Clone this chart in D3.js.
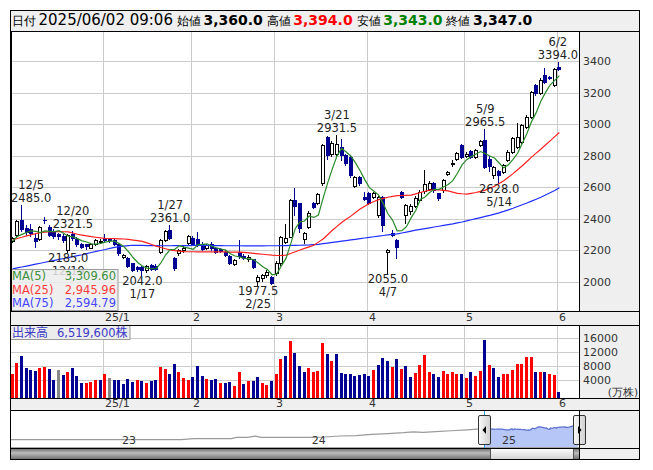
<!DOCTYPE html>
<html><head><meta charset="utf-8">
<script src="https://cdn.jsdelivr.net/npm/d3@7/dist/d3.min.js"></script>
<style>
body{margin:0;background:#fff;}
svg{display:block;}
text{font-family:"DejaVu Sans",sans-serif;}
</style></head>
<body><svg id="chart" width="653" height="470"></svg>
<script>
// ---------------- DATA ----------------
const dates = [
"2024-12-03","2024-12-04","2024-12-05","2024-12-06","2024-12-09","2024-12-10","2024-12-11","2024-12-12","2024-12-13","2024-12-16",
"2024-12-17","2024-12-18","2024-12-19","2024-12-20","2024-12-23","2024-12-24","2024-12-25","2024-12-26","2024-12-27","2024-12-30",
"2025-01-06","2025-01-07","2025-01-08","2025-01-09","2025-01-10","2025-01-14","2025-01-15","2025-01-16","2025-01-17","2025-01-20",
"2025-01-21","2025-01-22","2025-01-23","2025-01-24","2025-01-27","2025-01-28","2025-01-29","2025-01-30","2025-01-31","2025-02-03",
"2025-02-04","2025-02-05","2025-02-06","2025-02-07","2025-02-10","2025-02-12","2025-02-13","2025-02-14","2025-02-17","2025-02-18",
"2025-02-19","2025-02-20","2025-02-21","2025-02-25","2025-02-26","2025-02-27","2025-02-28","2025-03-03","2025-03-04","2025-03-05",
"2025-03-06","2025-03-07","2025-03-10","2025-03-11","2025-03-12","2025-03-13","2025-03-14","2025-03-17","2025-03-18","2025-03-19",
"2025-03-21","2025-03-24","2025-03-25","2025-03-26","2025-03-27","2025-03-28","2025-03-31","2025-04-01","2025-04-02","2025-04-03",
"2025-04-04","2025-04-07","2025-04-08","2025-04-09","2025-04-10","2025-04-11","2025-04-14","2025-04-15","2025-04-16","2025-04-17",
"2025-04-18","2025-04-21","2025-04-22","2025-04-23","2025-04-24","2025-04-25","2025-04-28","2025-04-30","2025-05-01","2025-05-02",
"2025-05-07","2025-05-08","2025-05-09","2025-05-12","2025-05-13","2025-05-14","2025-05-15","2025-05-16","2025-05-19","2025-05-20",
"2025-05-21","2025-05-22","2025-05-23","2025-05-26","2025-05-27","2025-05-28","2025-05-29","2025-05-30","2025-06-02"];

const opens = [2258,2295,2391,2340,2333,2276,2272,2392,2345,2318, 2300,2290,2200,2300,2272,2236,2236,2214,2240,2250,
 2275,2270,2262,2235,2158,2150,2115,2090,2090,2072, 2102,2098,2190,2262,2325,2148,2179,2200,2242,2274,
 2272,2238,2212,2238,2210,2205,2190,2160,2110,2190, 2165,2140,2140,2005,2020,2040,2031,2052,2115,2253,
 2284,2517,2496,2267,2348,2496,2496,2623,2919,2809, 2812,2856,2803,2792,2606,2661,2538,2560,2538,2422,
 2538,2188,2310,2263,2570,2422,2445,2480,2520,2575, 2590,2627,2560,2581,2680,2748,2778,2867,2797,2829,
 2793,2867,2898,2778,2676,2703,2698,2772,2825,2856, 2888,2983,3047,3248,3195,3311,3300,3248,3360];
const highs = [2282,2392,2485,2358,2366,2300,2350,2412,2360,2332, 2310,2300,2302,2321.5,2280,2246,2240,2246,2268,2272,
 2300,2275,2270,2240,2175,2155,2120,2100,2100,2104, 2110,2108,2268,2330,2361,2155,2205,2225,2298,2290,
 2316,2250,2240,2248,2218,2212,2198,2168,2142,2264, 2172,2166,2146,2040,2050,2070,2035,2130,2290,2363,
 2525,2591,2500,2316,2445,2505,2560,2875,2925,2890, 2931.5,2905,2810,2800,2670,2668,2570,2570,2566,2545,
 2545,2204,2330,2270,2575,2492,2490,2540,2578,2708, 2640,2634,2565,2650,2700,2770,2820,2875,2820,2835,
 2840,2900,2965.5,2800,2735,2710,2745,2832,2918,3004, 3000,3055,3212,3252,3290,3355,3305,3355,3394];
const lows = [2250,2290,2322,2296,2288,2220,2262,2372,2288,2275, 2272,2252,2185,2262,2225,2212,2205,2210,2232,2245,
 2250,2248,2232,2170,2150,2090,2065,2068,2042,2062, 2070,2070,2180,2255,2268,2075,2170,2190,2238,2230,
 2225,2198,2205,2200,2182,2185,2165,2110,2104,2150, 2140,2132,2085,1977.5,2005,2030,1984,2040,2105,2242,
 2280,2422,2316,2245,2340,2465,2490,2615,2780,2800, 2805,2770,2740,2665,2598,2615,2515,2490,2530,2410,
 2320,2055,2290,2147,2530,2370,2430,2470,2510,2560, 2580,2570,2520,2570,2675,2735,2770,2785,2790,2785,
 2785,2860,2720,2700,2660,2628,2690,2765,2815,2845, 2880,2975,3040,3185,3188,3260,3284,3240,3343];
const closes = [2274,2386,2331,2312,2305,2260,2344,2388,2297,2292, 2292,2262,2296,2275,2236,2220,2226,2240,2262,2258,
 2262,2262,2240,2180,2166,2100,2075,2082,2070,2098, 2080,2078,2262,2322,2274,2085,2198,2212,2290,2238,
 2232,2205,2232,2210,2190,2195,2170,2118,2135,2160, 2150,2158,2094,2027,2042,2062,1989,2119,2284,2278,
 2517,2479,2337,2310,2437,2471,2555,2866,2803,2881, 2876,2803,2750,2676,2661,2627,2521,2496,2560,2538,
 2358,2198,2295,2221,2539,2486,2478,2530,2570,2620, 2628,2581,2528,2644,2697,2752,2814,2793,2812,2793,
 2835,2892,2729,2735,2729,2676,2740,2825,2910,2920, 2994,3047,3205,3195,3279,3269,3290,3350,3347];
const priorCloses = [2245,2262,2250,2254];   // last closes before the window (for MA5 and first change)

// volume, 万株
const volumes = [5730,8990,10910,7460,6880,6690,7460,7750,7170,4010, 6880,5450,6310,7460,5160,3240,3240,3430,4010,4010,
 5730,4580,4010,4010,2860,4300,3430,4010,3720,3240, 3720,4010,7750,7170,5730,8610,6310,4580,4010,4870,
 8040,5160,4300,4010,4300,3240,3240,3430,2280,6310, 2860,3720,3720,4870,3140,2570,3720,5730,10050,10910,
 15230,11780,8040,6310,7460,6310,6600,14650,11580,9570, 11580,6120,5730,5730,5160,5450,5730,5160,6880,8320,
 10340,9470,7750,10050,7170,8040,4870,6020,8320,11200, 6310,5730,4870,6600,5730,6310,5730,5730,4580,6310,
 5160,6600,15520,8320,7460,4870,5730,5730,6880,8610, 8610,10620,10620,6310,6310,6310,5730,5450,652];

const ma25 = [2264,2273,2281,2290,2297,2304,2310,2314,2316,2317, 2317,2316,2315,2308,2300,2295,2290,2285,2281,2277,
 2274,2273,2272,2271,2270,2267,2263,2259,2255,2245, 2235,2225,2216,2208,2200,2196,2193,2190,2189,2189,
 2188,2188,2188,2188,2188,2188,2188,2187,2186,2186, 2185,2182,2179,2176,2173,2170,2167,2165,2166,2168,
 2178,2189,2200,2210,2220,2230,2250,2270,2297,2325, 2350,2375,2395,2415,2438,2460,2478,2495,2508,2520,
 2528,2535,2540,2545,2546,2547,2548,2556,2565,2573, 2580,2581,2582,2579,2575,2567,2560,2557,2555,2560,
 2565,2572,2580,2592,2605,2622,2640,2662,2685,2710, 2735,2762,2790,2815,2840,2867,2893,2920,2945.96];
const ma75 = [2080,2086,2092,2098,2104,2110,2116,2122,2128,2134, 2140,2146,2152,2158,2164,2170,2177,2184,2191,2197,
 2203,2210,2217,2222,2225,2228,2230,2229,2229,2228, 2228,2228,2227,2227,2227,2228,2228,2228,2228,2229,
 2229,2229,2229,2228,2228,2228,2227,2227,2227,2227, 2226,2226,2226,2226,2226,2227,2227,2227,2228,2228,
 2229,2229,2230,2231,2232,2234,2236,2240,2244,2248, 2252,2256,2260,2264,2268,2272,2276,2280,2284,2288,
 2292,2296,2299,2302,2308,2314,2320,2326,2331,2336, 2341,2346,2351,2356,2361,2366,2372,2378,2385,2392,
 2399,2406,2413,2420,2428,2436,2445,2455,2465,2476, 2487,2498,2510,2522,2535,2549,2563,2578,2594.79];

const priceTicks = [2000,2200,2400,2600,2800,3000,3200,3400];
const volumeTicks = [4000,8000,12000,16000];
const monthTickLabels = ["25/1","2","3","4","5","6"];

const highLowMarks = [
 ["2024-12-05","high"],["2024-12-20","high"],["2024-12-19","low"],["2025-01-17","low"],["2025-01-27","high"],
 ["2025-02-25","low"],["2025-03-21","high"],["2025-04-07","low"],["2025-05-09","high"],["2025-05-14","low"],["2025-06-02","high"]];

const headerItems = [["日付","2025/06/02 09:06","#000",false],["始値","3,360.0","#000",true],
 ["高値","3,394.0","#ff0000",true],["安値","3,343.0","#008000",true],["終値","3,347.0","#000",true]];
const maLegend = [["MA(5)","3,309.60","#3b8f3b"],["MA(25)","2,945.96","#ff3c3c"],["MA(75)","2,594.79","#4646ff"]];
const volumeLabelName = "出来高";
const volumeLabelValue = "6,519,600株";
const volumeUnit = "(万株)";

// long-range navigator history (before the window)
const navHistoryDates = ["2022-06-05","2022-07-01","2022-08-01","2022-09-01","2022-10-01","2022-11-01","2022-12-01",
 "2023-01-01","2023-02-01","2023-03-01","2023-04-01","2023-05-01","2023-05-25","2023-07-01","2023-08-05","2023-08-15",
 "2023-09-05","2023-09-20","2023-10-01","2023-11-01","2023-12-01","2024-01-01","2024-02-01","2024-03-01","2024-04-01",
 "2024-05-01","2024-06-01","2024-07-01","2024-07-20","2024-08-08","2024-09-01","2024-10-01","2024-11-01","2024-11-20"];
const navHistoryValues = [745,747,746,748,745,748,747, 746,748,749,750,752,830,835,840,950,
 955,1090,950,955,950,955,990,1100,1150, 1300,1420,1560,1700,1600,1750,1900,2100,2250];
const navYearLabels = [["2023-01-01","23"],["2024-01-01","24"],["2025-01-01","25"]];

// ---------------- LAYOUT ----------------
const svg = d3.select("#chart");
const FL=10, PR=579, FR=640;
const HT=10, PT=31, PB=310.5, VT=325, VB=397.5, NT=410, NB=447.5, SB=459.5;
const BLUE="#000092", GRID="#cccccc", PANEL="#efefef";
const parse = d3.timeParse("%Y-%m-%d");
const D = dates.map(parse);
const n = dates.length, padSlots = 4;

const x = d3.scaleBand().domain(d3.range(n+padSlots)).range([10.3, 580.2]);
const cx = i => x(i) + x.bandwidth()/2;
const px = i => Math.round(cx(i));
const y = d3.scaleLinear().domain([2000,3400]).range([281.5,61]);
const yv = d3.scaleLinear().domain([4000,16000]).range([380,338.3]);

const defs = svg.append("defs");
defs.append("clipPath").attr("id","clipP").append("rect").attr("x",FL).attr("y",PT).attr("width",PR-FL).attr("height",PB-PT);
defs.append("clipPath").attr("id","clipN").append("rect").attr("x",FL).attr("y",NT).attr("width",PR-FL).attr("height",NB-NT);
const g1 = defs.append("linearGradient").attr("id","sbg").attr("x1",0).attr("x2",0).attr("y1",0).attr("y2",1);
[["0%","#5a5a5a"],["45%","#bdbdbd"],["100%","#6e6e6e"]].forEach(s=>g1.append("stop").attr("offset",s[0]).attr("stop-color",s[1]));
const g2 = defs.append("linearGradient").attr("id","thumbg").attr("x1",0).attr("x2",0).attr("y1",0).attr("y2",1);
[["0%","#ffffff"],["100%","#d4d4d4"]].forEach(s=>g2.append("stop").attr("offset",s[0]).attr("stop-color",s[1]));
const g3 = defs.append("linearGradient").attr("id","handleg").attr("x1",0).attr("x2",1).attr("y1",0).attr("y2",0);
[["0%","#fafafa"],["100%","#cfcfcf"]].forEach(s=>g3.append("stop").attr("offset",s[0]).attr("stop-color",s[1]));

// backgrounds
svg.append("rect").attr("x",FL).attr("y",HT).attr("width",FR-FL).attr("height",SB-HT).attr("fill",PANEL);
[[PT,PB],[VT,VB],[NT,NB]].forEach(([t,b]) =>
  svg.append("rect").attr("x",FL).attr("y",t).attr("width",PR-FL).attr("height",b-t).attr("fill","#fff"));

// month boundaries
const monthStarts = d3.range(1,n).filter(i => D[i].getMonth() !== D[i-1].getMonth());
const gx = i => Math.round(x(i)) + 0.5;

const grid = svg.append("g").attr("shape-rendering","crispEdges").attr("stroke",GRID);
priceTicks.forEach(t => grid.append("line").attr("x1",FL).attr("x2",PR).attr("y1",Math.round(y(t))+0.5).attr("y2",Math.round(y(t))+0.5));
volumeTicks.forEach(t => grid.append("line").attr("x1",FL).attr("x2",PR).attr("y1",Math.round(yv(t))+0.5).attr("y2",Math.round(yv(t))+0.5));
monthStarts.forEach(i => {
  grid.append("line").attr("x1",gx(i)).attr("x2",gx(i)).attr("y1",PT).attr("y2",PB);
  grid.append("line").attr("x1",gx(i)).attr("x2",gx(i)).attr("y1",VT).attr("y2",VB);
});

// month labels (two bands)
monthStarts.forEach((i,k) => {
  [321,407].forEach(by => svg.append("text").attr("x",gx(i)+1.5).attr("y",by)
    .attr("font-size",11).attr("fill","#333").text(monthTickLabels[k]));
});

// price axis labels
priceTicks.forEach(t => svg.append("text").attr("x",583).attr("y",y(t)+4).attr("font-size",11).attr("fill","#333").text(t));
volumeTicks.forEach(t => svg.append("text").attr("x",583).attr("y",yv(t)+4).attr("font-size",11).attr("fill","#333").text(t));
svg.append("text").attr("x",638).attr("y",395.5).attr("text-anchor","end").attr("font-size",10.5)
  .attr("font-family","'Noto Sans CJK JP',sans-serif").attr("fill","#333").text(volumeUnit);

// candles
const gC = svg.append("g").attr("clip-path","url(#clipP)").attr("shape-rendering","crispEdges");
d3.range(n).forEach(i => {
  const o=opens[i], c=closes[i], X=px(i);
  const up=c>o, dn=c<o;
  gC.append("line").attr("x1",X-0.5).attr("x2",X-0.5).attr("y1",Math.round(y(highs[i]))).attr("y2",Math.round(y(lows[i]))+1)
    .attr("stroke", dn?BLUE:"#000");
  const top=Math.round(y(Math.max(o,c))), bot=Math.round(y(Math.min(o,c)));
  if (up) gC.append("rect").attr("x",X-1.5).attr("y",top+0.5).attr("width",3).attr("height",Math.max(1,bot-top))
      .attr("fill","#fff").attr("stroke","#000");
  else if (dn) gC.append("rect").attr("x",X-2).attr("y",top).attr("width",4).attr("height",bot-top+1).attr("fill",BLUE);
  else gC.append("line").attr("x1",X-2).attr("x2",X+2).attr("y1",top+0.5).attr("y2",top+0.5).attr("stroke","#000");
});

// moving averages
const allC = priorCloses.concat(closes);
const ma5 = closes.map((c,i) => d3.mean(allC.slice(i, i+5)));
const lineG = svg.append("g").attr("clip-path","url(#clipP)").attr("fill","none").attr("stroke-width",1.2);
const ln = d3.line().x((d,i)=>cx(i)).y(d=>y(d));
lineG.append("path").attr("d",ln(ma75)).attr("stroke","#1f2fff");
lineG.append("path").attr("d",ln(ma25)).attr("stroke","#ff1f1f");
lineG.append("path").attr("d",ln(ma5)).attr("stroke","#2a8a2a");

// high / low annotations
const annG = svg.append("g").attr("font-size",11.5).attr("fill","#222");
highLowMarks.forEach(([ds,kind]) => {
  const i = dates.indexOf(ds);
  const v = kind==="high" ? highs[i] : lows[i];
  const yy = y(v);
  const dl = d3.timeFormat("%-m/%-d")(D[i]);
  const vt = v.toFixed(1);
  const lines = kind==="high" ? [[dl,yy-16],[vt,yy-3]] : [[vt,yy+10],[dl,yy+23]];
  const ts = lines.map(([t,by]) => annG.append("text").attr("y",by).attr("text-anchor","middle").text(t));
  const w = d3.max(ts, t => t.node().getComputedTextLength());
  const c = Math.max(FL+1+w/2, Math.min(PR-1-w/2, cx(i)));
  ts.forEach(t => t.attr("x",c));
});

// MA legend
const lg = svg.append("g");
lg.append("rect").attr("x",10.5).attr("y",269.5).attr("width",107.5).attr("height",41)
  .attr("fill","rgba(236,236,236,0.85)").attr("stroke","#9a9a9a");
maLegend.forEach(([name,val,col],k) => {
  const by = 280 + k*13.5;
  lg.append("text").attr("x",12).attr("y",by).attr("font-size",11.5).attr("fill",col).text(name);
  lg.append("text").attr("x",116).attr("y",by).attr("text-anchor","end").attr("font-size",11.5).attr("fill",col).text(val);
});

// volume bars
const gV = svg.append("g").attr("shape-rendering","crispEdges");
d3.range(n).forEach(i => {
  const prev = i===0 ? priorCloses[priorCloses.length-1] : closes[i-1];
  const col = closes[i]>prev ? "#ff0000" : closes[i]<prev ? BLUE : "#888888";
  const top = Math.round(yv(volumes[i]));
  gV.append("rect").attr("x",px(i)-2).attr("y",top).attr("width",3).attr("height",VB-top).attr("fill",col);
});

// volume label box
svg.append("rect").attr("x",10.5).attr("y",325.5).attr("width",119.5).attr("height",14).attr("fill","#ececec").attr("stroke","#9a9a9a");
const vl = svg.append("text").attr("x",12).attr("y",337).attr("fill","#3b3bc8");
vl.append("tspan").attr("font-family","'Noto Sans CJK JP',sans-serif").attr("font-size",12).text(volumeLabelName);
vl.append("tspan").attr("x",57).attr("font-size",11.5).text(volumeLabelValue.replace("株",""));
vl.append("tspan").attr("font-family","'Noto Sans CJK JP',sans-serif").attr("font-size",12).text("株");

// header
let hx = 12;
headerItems.forEach(([lab,val,col,bold]) => {
  const t1 = svg.append("text").attr("x",hx).attr("y",25).attr("font-family","'Noto Sans CJK JP',sans-serif")
    .attr("font-size",11.5).attr("fill","#000").text(lab);
  hx += t1.node().getComputedTextLength() + 2.5;
  const t2 = svg.append("text").attr("x",hx).attr("y",25).attr("font-size",bold?14:15)
    .attr("font-weight",bold?"bold":"normal").attr("fill",col).text(val);
  hx += t2.node().getComputedTextLength() + 4;
});

// navigator
const navX = d3.scaleTime().domain([parse("2022-06-05"), parse("2025-06-04")]).range([FL, PR]);
const navY = d3.scaleLog().domain([330,16700]).range([NB, NT]);
const navG = svg.append("g").attr("clip-path","url(#clipN)");
const histPts = navHistoryDates.map((d,k)=>[parse(d), navHistoryValues[k]]).concat([[D[0],closes[0]]]);
const selPts = D.map((d,i)=>[d, closes[i]]);
navG.append("path").attr("d", d3.line().x(p=>navX(p[0])).y(p=>navY(p[1]))(histPts))
  .attr("fill","none").attr("stroke","#9a9a9a").attr("stroke-width",1.2);
navG.append("path").attr("d", d3.area().x(p=>navX(p[0])).y0(NB).y1(p=>navY(p[1]))(selPts))
  .attr("fill","#b6c6f6");
navG.append("path").attr("d", d3.line().x(p=>navX(p[0])).y(p=>navY(p[1]))(selPts))
  .attr("fill","none").attr("stroke","#5b6fd0").attr("stroke-width",1.2);
navYearLabels.forEach(([d,t]) => svg.append("text").attr("x",navX(parse(d))+3).attr("y",444)
  .attr("font-size",11).attr("fill","#333").text(t));

const hL = Math.round(navX(D[0]))+0.5, hR = PR+0.5;
// scrollbar
svg.append("rect").attr("x",FL).attr("y",NB).attr("width",PR-FL).attr("height",SB-NB).attr("fill","url(#sbg)");
svg.append("rect").attr("x",hL+6).attr("y",NB+0.5).attr("width",hR-hL-12).attr("height",SB-NB-1)
  .attr("fill","url(#thumbg)").attr("stroke","#555").attr("shape-rendering","crispEdges");
// selection lines + handles
[hL,hR].forEach((hx2,k) => {
  svg.append("line").attr("x1",hx2).attr("x2",hx2).attr("y1",NT).attr("y2",NB).attr("stroke","#2b9fe0").attr("shape-rendering","crispEdges");
  svg.append("rect").attr("x",hx2-6).attr("y",415.5).attr("width",12).attr("height",29).attr("rx",1.5)
    .attr("fill","url(#handleg)").attr("stroke","#333");
  const tri = k===0 ? [[hx2+1.5,426],[hx2+1.5,434],[hx2-2,430]] : [[hx2-1.5,426],[hx2-1.5,434],[hx2+2,430]];
  svg.append("polygon").attr("points",tri.map(p=>p.join(",")).join(" ")).attr("fill","#000");
});

// borders
const bd = svg.append("g").attr("fill","none").attr("stroke","#000").attr("shape-rendering","crispEdges");
bd.append("rect").attr("x",FL+0.5).attr("y",HT+0.5).attr("width",FR-FL-1).attr("height",SB-HT-1);
[PT,PB,VT,VB,NT,NB].forEach(yy => bd.append("line").attr("x1",FL).attr("x2",FR).attr("y1",Math.round(yy)+0.5).attr("y2",Math.round(yy)+0.5));
[[PT,PB],[VT,VB],[NT,SB]].forEach(([t,b]) => bd.append("line").attr("x1",PR+0.5).attr("x2",PR+0.5).attr("y1",t).attr("y2",b));
bd.append("line").attr("x1",FL+1.5).attr("x2",FL+1.5).attr("y1",PT).attr("y2",PB);
</script>
</body></html>
